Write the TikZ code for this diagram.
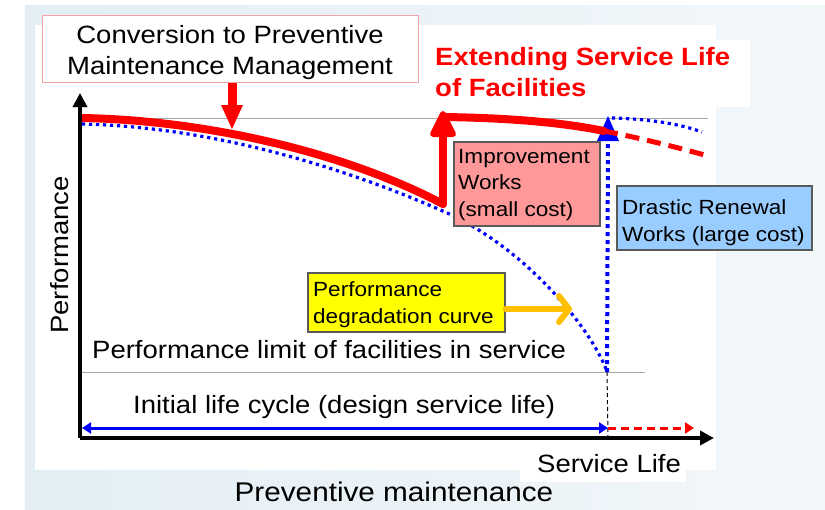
\documentclass[tikz,border=0pt]{standalone}
\usepackage{fontspec}
\setmainfont[FakeStretch=1.1]{Liberation Sans}
\usetikzlibrary{arrows.meta}
\definecolor{bgA}{HTML}{E3EEF5}
\definecolor{bgB}{HTML}{F2F7FA}
\definecolor{pred}{HTML}{FF0000}
\definecolor{pblue}{HTML}{0000FF}
\definecolor{porange}{HTML}{FFC000}
\definecolor{salmon}{HTML}{FF9999}
\definecolor{skyb}{HTML}{99CCFF}
\definecolor{pyellow}{HTML}{FFFF00}
\definecolor{boxline}{HTML}{5A5A5A}
\definecolor{pinkline}{HTML}{F4A4A4}
\definecolor{guide}{HTML}{A6A6A6}
\begin{document}
\begin{tikzpicture}[x=1pt,y=-1pt,
  bigtxt/.style={inner sep=0pt, font=\fontsize{25}{31}\selectfont},
  boxtxt/.style={inner sep=0pt, align=left, font=\fontsize{20.5}{26.7}\selectfont},
  infobox/.style={draw=boxline, line width=1.2pt, inner sep=0pt},
  redcurve/.style={pred, line width=8pt, line cap=round, line join=round},
  bluedots/.style={pblue, line width=3.2pt, dash pattern=on 3.2pt off 3.8pt},
  bigdots/.style={pblue, line width=4pt, dash pattern=on 4pt off 4pt},
  guideline/.style={guide, line width=1pt},
  axis/.style={black, line width=4pt, -{Triangle[length=14pt,width=14pt]}}
]
\useasboundingbox (0,0) rectangle (825,509);
% background
\fill[white] (0,0) rectangle (825,509);
\shade[left color=bgA, right color=bgB] (25,5) rectangle (825,509);
\fill[white] (35,25) rectangle (716,470);
\fill[white] (420,40) rectangle (750,107);
\fill[white] (520,440) rectangle (686,482);

% key points
\coordinate (O) at (80,438);
\coordinate (ytip) at (80,93);
\coordinate (xtip) at (714,438);
\coordinate (topL) at (80,118);
\coordinate (topR) at (708,118);
\coordinate (limL) at (80,372);
\coordinate (limR) at (645,372);
\coordinate (r0) at (82,118);
\coordinate (r1) at (443,204);
\coordinate (r2) at (443,114);
\coordinate (r2b) at (443,136);
\coordinate (r3) at (443,117);
\coordinate (r4) at (604,131);
\coordinate (r5) at (708,156);
\coordinate (b0) at (82,124);
\coordinate (b1) at (445,212);
\coordinate (b2) at (607,372);
\coordinate (b3) at (608,116);
\coordinate (b3b) at (608,138);
\coordinate (b4) at (612,118);
\coordinate (b5) at (702,132);
\coordinate (d1) at (608,438);
\coordinate (lcL) at (82,428);
\coordinate (lcM) at (608,428);
\coordinate (lcR) at (694,428);

% guide lines
\draw[guideline] (topL) -- (topR);
\draw[guideline] (limL) -- (limR);

% blue degradation curve
\draw[bluedots] (b0) .. controls (220,127) and (355,172) .. (b1)
   .. controls (530,250) and (595,335) .. (b2);
\draw[bluedots] (b4) .. controls (650,119) and (680,124) .. (b5);
\draw[black, line width=1pt, dash pattern=on 4pt off 3pt] (b2) -- (d1);
\draw[bigdots] (b2) -- (b3b);
\fill[pblue] (b3) -- ++(-11,25) -- ++(22,0) -- cycle;

% red curve
\draw[redcurve] (r0) .. controls (200,120) and (340,150) .. (r1);
\draw[redcurve] (r1) -- (r2b);
\draw[pred, line width=6pt, line join=round, fill=pred] (r2) -- ++(-10,20) -- ++(20,0) -- cycle;
\draw[redcurve] (r3) .. controls (520,118) and (570,124) .. (r4);
\draw[pred, line width=5pt, dash pattern=on 14pt off 8pt] (r4) .. controls (640,138) and (680,148) .. (r5);

% axes
\draw[axis] (O) -- (ytip);
\draw[axis] (O) -- (xtip);

% life-cycle arrows
\draw[pblue, line width=3pt, {Triangle[length=9pt,width=11pt]}-{Triangle[length=9pt,width=11pt]}] (lcL) -- (lcM);
\draw[pred, line width=3pt, dash pattern=on 8pt off 5pt, -{Triangle[length=9pt,width=11pt]}] (lcM) -- (lcR);

% conversion box and arrow
\node[draw=pinkline, line width=1pt, fill=white, minimum width=376pt, minimum height=67pt, inner sep=0pt] (convbox) at (230,48.5) {};
\node[bigtxt, align=center] (convtext) at (230,52.5) {Conversion to Preventive\\Maintenance Management};
\coordinate (ctip) at (232,129);
\coordinate (cbase) at (232,108);
\draw[pred, line width=9pt] (convbox.south -| ctip) -- (cbase);
\fill[pred] (ctip) -- ++(-11,-24) -- ++(22,0) -- cycle;

% extending label
\node[inner sep=0pt, anchor=west, align=left, text=pred, font=\fontsize{25}{31}\selectfont\bfseries] (exttext) at (435,72.4) {Extending Service Life\\of Facilities};

% improvement box
\node[infobox, fill=salmon, minimum width=146pt, minimum height=84pt] (impbox) at (527,184) {};
\node[boxtxt, anchor=west] (imptext) at (458,184.8) {Improvement\\Works\\(small cost)};

% drastic renewal box
\node[infobox, fill=skyb, minimum width=195pt, minimum height=64pt] (drabox) at (714.5,218) {};
\node[boxtxt, anchor=west] (dratext) at (622,222.7) {Drastic Renewal\\Works (large cost)};

% degradation box and arrow
\node[infobox, fill=pyellow, minimum width=197pt, minimum height=59pt] (degbox) at (406.5,302.5) {};
\node[boxtxt, anchor=west] (degtext) at (313,304.7) {Performance\\degradation curve};
\coordinate (otip) at (572,309);
\draw[porange, line width=6pt, line cap=round, -{Straight Barb[length=10pt,width=26pt,round]}] (degbox.east |- otip) -- (otip);

% texts
\node[bigtxt, anchor=base west] (limtext) at (92,358) {Performance limit of facilities in service};
\node[bigtxt, anchor=base west] (lifetext) at (133,413) {Initial life cycle (design service life)};
\node[bigtxt, anchor=base west] (sltext) at (537,472) {Service Life};
\node[inner sep=0pt, font=\fontsize{27}{31}\selectfont, anchor=base] (pmtext) at (394,501) {Preventive maintenance};
\node[bigtxt, anchor=base, rotate=90] (perftext) at (68,255) {Performance};
\end{tikzpicture}
\end{document}
